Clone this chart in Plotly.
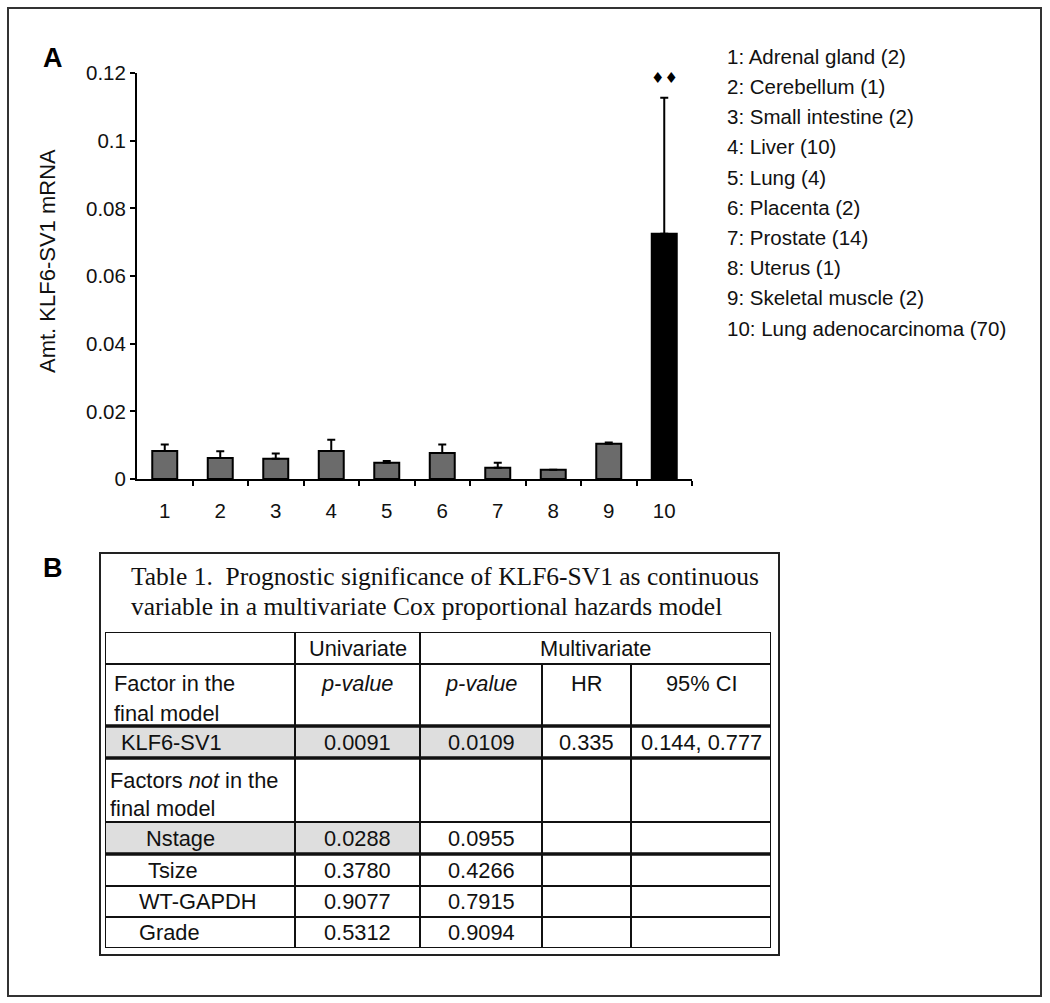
import plotly.graph_objects as go

# ---------------- data ----------------
categories = [1, 2, 3, 4, 5, 6, 7, 8, 9, 10]
category_labels = ["1", "2", "3", "4", "5", "6", "7", "8", "9", "10"]
mrna_mean = [0.0083, 0.0062, 0.0060, 0.0083, 0.0048, 0.0077, 0.0033, 0.0027, 0.0104, 0.0725]
mrna_err = [0.0019, 0.0020, 0.0015, 0.0033, 0.0005, 0.0025, 0.0015, 0.0, 0.0004, 0.0402]
tissue_labels = ["1: Adrenal gland (2)", "2: Cerebellum (1)", "3: Small intestine (2)",
                 "4: Liver (10)", "5: Lung (4)", "6: Placenta (2)", "7: Prostate (14)",
                 "8: Uterus (1)", "9: Skeletal muscle (2)", "10: Lung adenocarcinoma (70)"]
y_ticks = [0, 0.02, 0.04, 0.06, 0.08, 0.1, 0.12]
y_tick_labels = ["0", "0.02", "0.04", "0.06", "0.08", "0.1", "0.12"]

table_title = ["Table 1.  Prognostic significance of KLF6-SV1 as continuous",
               "variable in a multivariate Cox proportional hazards model"]
header_top = ["", "Univariate", "Multivariate"]
header_sub = ["Factor in the<br>final model", "<i>p-value</i>", "<i>p-value</i>", "HR", "95% CI"]
group_label = "Factors <i>not</i> in the<br>final model"
factors = ["KLF6-SV1", "Nstage", "Tsize", "WT-GAPDH", "Grade"]
univariate_p = ["0.0091", "0.0288", "0.3780", "0.9077", "0.5312"]
multivariate_p = ["0.0109", "0.0955", "0.4266", "0.7915", "0.9094"]
hazard_ratio = ["0.335", "", "", "", ""]
ci_95 = ["0.144, 0.777", "", "", "", ""]

# ---------------- layout constants ----------------
W, H = 1050, 1003
FONT = "Liberation Sans, Arial, sans-serif"
SERIF = "Liberation Serif, Times New Roman, serif"
FS = 20.5      # panel A text
FT = 21.8      # table text


def px(x):
    return x / W


def py(y):
    return 1 - y / H


bar_colors = ["#6b6b6b"] * 9 + ["#000000"]

fig = go.Figure()
fig.add_trace(go.Bar(
    x=categories, y=mrna_mean, width=0.45,
    marker=dict(color=bar_colors, line=dict(color="black", width=2)),
    error_y=dict(type="data", array=mrna_err, arrayminus=[0] * len(mrna_err),
                 symmetric=False, color="black", thickness=2, width=4),
    showlegend=False, xaxis="x", yaxis="y",
))

annotations = []
shapes = []

# significance mark above bar 10
annotations.append(dict(x=categories[-1], y=0.1185, xref="x", yref="y", text="♦♦",
                        showarrow=False, font=dict(family="DejaVu Sans", size=15, color="black"),
                        xanchor="center", yanchor="middle"))

# y axis title
annotations.append(dict(x=px(48), y=py(261), xref="paper", yref="paper",
                        text="Amt. KLF6-SV1 mRNA", textangle=-90, showarrow=False,
                        xanchor="center", yanchor="middle",
                        font=dict(family=FONT, size=22, color="#111")))

# panel letters
annotations.append(dict(x=px(53), y=py(58), xref="paper", yref="paper", text="<b>A</b>",
                        showarrow=False, xanchor="center", yanchor="middle",
                        font=dict(family=FONT, size=27, color="black")))
annotations.append(dict(x=px(53), y=py(568), xref="paper", yref="paper", text="<b>B</b>",
                        showarrow=False, xanchor="center", yanchor="middle",
                        font=dict(family=FONT, size=27, color="black")))

# tissue key
for i, lab in enumerate(tissue_labels):
    annotations.append(dict(x=px(725), y=py(56 + 30.25 * i), xref="paper", yref="paper",
                            text=lab, showarrow=False, xanchor="left", yanchor="middle",
                            font=dict(family=FONT, size=FS, color="#111")))

# ---------------- table ----------------
col_edges = [0, 190, 315, 437, 526, 666]
row_heights = [32, 62, 32, 64, 32, 32, 31, 31]
row_edges = [0]
for h in row_heights:
    row_edges.append(row_edges[-1] + h)
T_TOP, T_LEFT = 632, 105
total_h = row_edges[-1]

gray = "#dedede"
shaded = [(2, 0), (2, 1), (2, 2), (4, 0), (4, 1)]
for r, c in shaded:
    shapes.append(dict(type="rect", xref="x2", yref="y2", x0=col_edges[c], x1=col_edges[c + 1],
                       y0=row_edges[r], y1=row_edges[r + 1], fillcolor=gray, line=dict(width=0),
                       layer="below"))

thick_rows = {2: 3.5, 3: 3.5, 5: 3.5}
for r, y in enumerate(row_edges):
    shapes.append(dict(type="line", xref="x2", yref="y2", x0=0, x1=col_edges[-1], y0=y, y1=y,
                       line=dict(color="#111", width=thick_rows.get(r, 2))))
for c, x in enumerate(col_edges):
    y_start = row_edges[1] if c in (3, 4) else 0
    shapes.append(dict(type="line", xref="x2", yref="y2", x0=x, x1=x, y0=y_start, y1=total_h,
                       line=dict(color="#111", width=2)))


def cell_text(text, col, row, align="center", indent=0, top_lines=False, first=19, step=29):
    lines = text.split("<br>")
    r0, r1 = row_edges[row], row_edges[row + 1]
    if len(lines) == 1 and not top_lines:
        ys = [(r0 + r1) / 2]
    else:
        ys = [r0 + first + step * k for k in range(len(lines))]
    for line, yy in zip(lines, ys):
        if not line:
            continue
        if align == "center":
            xx, anchor = (col_edges[col] + col_edges[col + 1]) / 2, "center"
        else:
            xx, anchor = col_edges[col] + indent, "left"
        annotations.append(dict(x=xx, y=yy, xref="x2", yref="y2", text=line, showarrow=False,
                                xanchor=anchor, yanchor="middle",
                                font=dict(family=FONT, size=FT, color="#111")))


cell_text(header_top[1], 1, 0)
annotations.append(dict(x=(col_edges[2] + col_edges[5]) / 2, y=(row_edges[0] + row_edges[1]) / 2,
                        xref="x2", yref="y2", text=header_top[2], showarrow=False,
                        xanchor="center", yanchor="middle",
                        font=dict(family=FONT, size=FT, color="#111")))
cell_text(header_sub[0], 0, 1, align="left", indent=7, first=19, step=30)
for c in range(1, 5):
    cell_text(header_sub[c], c, 1, top_lines=True, first=19)
cell_text(group_label, 0, 3, align="left", indent=3, first=22, step=28)

factor_indents = [14, 39, 41, 32, 32]
data_rows = [2, 4, 5, 6, 7]
for i, r in enumerate(data_rows):
    cell_text(factors[i], 0, r, align="left", indent=factor_indents[i])
    cell_text(univariate_p[i], 1, r)
    cell_text(multivariate_p[i], 2, r)
    if hazard_ratio[i]:
        cell_text(hazard_ratio[i], 3, r)
    if ci_95[i]:
        cell_text(ci_95[i], 4, r)

for k, line in enumerate(table_title):
    annotations.append(dict(x=px(129), y=py(576 + 30 * k), xref="paper", yref="paper", text=line,
                            showarrow=False, xanchor="left", yanchor="middle",
                            font=dict(family=SERIF, size=25.5, color="#111")))

shapes.append(dict(type="rect", xref="paper", yref="paper", x0=px(100), x1=px(779),
                   y0=py(553), y1=py(T_TOP + total_h + 7), line=dict(color="#222", width=2)))
shapes.append(dict(type="rect", xref="paper", yref="paper", x0=px(8), x1=px(1041),
                   y0=py(8), y1=py(996), line=dict(color="#333", width=2)))

fig.update_layout(
    width=W, height=H, autosize=False,
    margin=dict(l=0, r=0, t=0, b=0, pad=0, autoexpand=False),
    paper_bgcolor="white", plot_bgcolor="white",
    showlegend=False,
    xaxis=dict(domain=[px(137), px(692)], range=[0.5, 10.5], tickmode="array",
               tickvals=categories, ticktext=category_labels, ticks="", showgrid=False,
               zeroline=False, showline=True, linecolor="black", linewidth=2,
               tickfont=dict(family=FONT, size=FS, color="#111"), automargin=False,
               ticklabelstandoff=12,
               minor=dict(tickmode="array", tickvals=[c + 0.5 for c in categories],
                          ticks="outside", ticklen=5, tickwidth=1.5, tickcolor="black"),
               anchor="y", fixedrange=True),
    yaxis=dict(domain=[py(479), py(73)], range=[0, 0.12], tickmode="array", tickvals=y_ticks,
               ticktext=y_tick_labels, ticks="outside", ticklen=5, tickwidth=1.5,
               tickcolor="black", showgrid=False, zeroline=False, showline=True,
               linecolor="black", linewidth=2, automargin=False,
               tickfont=dict(family=FONT, size=FS, color="#111"), anchor="x", fixedrange=True),
    xaxis2=dict(domain=[px(T_LEFT), px(T_LEFT + col_edges[-1])], range=[0, col_edges[-1]],
                visible=False, anchor="y2", fixedrange=True, automargin=False),
    yaxis2=dict(domain=[py(T_TOP + total_h), py(T_TOP)], range=[total_h, 0],
                visible=False, anchor="x2", fixedrange=True, automargin=False),
    annotations=annotations,
    shapes=shapes,
)

fig.write_html(
    "out.html",
    config={"displayModeBar": False},
    post_script="document.body.style.margin='0';document.body.style.overflow='hidden';"
                "document.documentElement.style.overflow='hidden';",
)
